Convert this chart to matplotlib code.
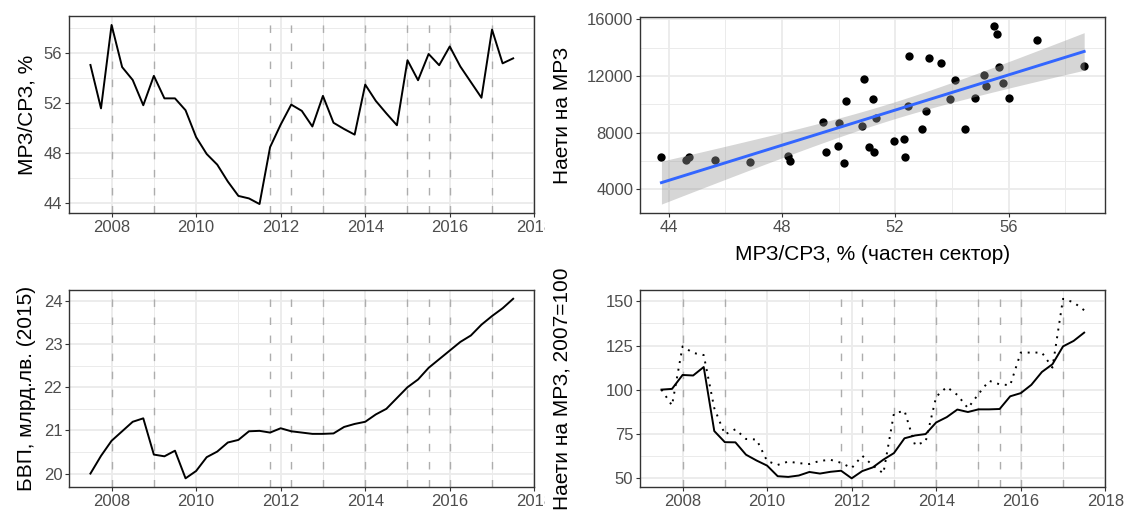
'''
Four panel chart: minimum wage / average wage ratio, GDP and employment at minimum wage.
'''

import numpy as np
import pandas as pd
import matplotlib
matplotlib.use('Agg')
import matplotlib.pyplot as plt
from matplotlib.transforms import Bbox, TransformedBbox

plt.rcParams['font.family'] = ['Liberation Sans', 'DejaVu Sans']

# quarterly series, 2007Q3 - 2017Q3
quarters = pd.period_range('2007Q3', '2017Q3', freq='Q')
t = np.array(quarters.year + (quarters.quarter - 1) / 4.0)

# МРЗ/СРЗ, %
mrz_srz = [55.07, 51.6, 58.27, 54.9, 53.87, 51.85, 54.2, 52.4, 52.4, 51.45,
           49.3, 47.95, 47.1, 45.75, 44.6, 44.4, 43.95, 48.5, 50.3, 51.9,
           51.4, 50.15, 52.6, 50.45, 49.95, 49.5, 53.5, 52.2, 51.2, 50.25,
           55.45, 53.85, 55.95, 55.05, 56.55, 54.95, 53.7, 52.45, 57.9, 55.2,
           55.6]

# БВП, млрд.лв. (2015)
gdp = [20.0, 20.41, 20.76, 20.98, 21.2, 21.28, 20.44, 20.4, 20.53, 19.89,
       20.06, 20.38, 20.51, 20.72, 20.78, 20.98, 20.99, 20.95, 21.05, 20.98,
       20.95, 20.92, 20.92, 20.93, 21.08, 21.15, 21.2, 21.37, 21.5, 21.75,
       22.0, 22.18, 22.45, 22.65, 22.85, 23.05, 23.2, 23.45, 23.65, 23.83,
       24.05]

# Наети на МРЗ, 2007=100 (solid and dotted)
emp_idx = [100.0, 100.4, 108.3, 108.0, 112.8, 76.5, 70.2, 70.1, 63.1, 59.8,
           56.9, 50.9, 50.5, 51.3, 53.3, 52.4, 53.4, 54.0, 49.7, 53.8,
           55.9, 60.3, 64.0, 72.4, 74.0, 74.8, 81.4, 84.4, 88.7, 87.3,
           88.8, 88.8, 89.0, 96.2, 98.0, 102.7, 110.0, 114.4, 124.5, 127.6,
           132.3]
emp_idx_dot = [100.0, 91.0, 124.5, 120.8, 119.6, 89.5, 74.6, 77.5, 72.0, 71.7,
               59.5, 57.3, 59.2, 58.3, 57.8, 59.6, 60.2, 58.5, 55.5, 62.5,
               57.0, 52.5, 86.5, 88.0, 68.5, 70.5, 96.0, 101.5, 97.0, 89.5,
               97.5, 105.0, 103.0, 102.5, 121.0, 121.0, 121.0, 112.5, 151.5, 149.5,
               145.0]

# scatter: МРЗ/СРЗ (частен сектор) vs наети на МРЗ
sc_x = [43.75, 44.6, 44.73, 45.63, 46.87, 48.2, 48.3, 49.45, 49.56, 50.0,
        49.98, 50.2, 50.28, 50.83, 50.9, 51.06, 51.21, 51.27, 51.34, 51.95,
        52.3, 52.35, 52.45, 52.5, 52.95, 53.1, 53.2, 53.6, 53.95, 54.1,
        54.45, 54.8, 55.15, 55.2, 55.5, 55.6, 55.65, 55.8, 56.0, 57.0,
        58.67]
sc_y = [6260, 6100, 6260, 6070, 5950, 6350, 6000, 8750, 6600, 8680,
        7060, 5860, 10240, 8470, 11790, 7000, 10400, 6600, 9000, 7390,
        7580, 6260, 9860, 13440, 8260, 9530, 13270, 12940, 10400, 11740,
        8240, 10450, 12050, 11270, 15530, 14940, 12640, 11510, 10450, 14560,
        12700]

# event dates (dashed lines)
events = [2008.0, 2009.0, 2011.75, 2012.25, 2013.0, 2014.0, 2015.0, 2015.5, 2016.0, 2017.0]

year_ticks = [2008, 2010, 2012, 2014, 2016, 2018]
year_minor = [2007, 2009, 2011, 2013, 2015, 2017]

W, H = 1126, 512


def style_ax(ax, xmaj, xmin, ymaj, ymin):
    '''
    theme_bw look
    '''
    ax.set_xticks(xmaj)
    ax.set_xticks(xmin, minor=True)
    ax.set_yticks(ymaj)
    ax.set_yticks(ymin, minor=True)
    ax.set_axisbelow(True)
    ax.grid(which='major', color='#EBEBEB', lw=1.3)
    ax.grid(which='minor', color='#EBEBEB', lw=0.7)
    for s in ax.spines.values():
        s.set_color('#333333')
        s.set_linewidth(1.0)
    ax.tick_params(which='major', length=3.0, width=0.8, color='#333333',
                   labelsize=12, labelcolor='#4D4D4D', pad=2)
    ax.tick_params(which='minor', length=0)


def expand(vals, frac=0.05):
    lo, hi = np.min(vals), np.max(vals)
    d = (hi - lo) * frac
    return lo - d, hi + d


def add_events(ax):
    for e in events:
        ax.axvline(e, color='#ADADAD', lw=1.0, dashes=(5.4, 7.6), zorder=1.8)


fig = plt.figure(figsize=(W / 100, H / 100), dpi=100)

axw = 465 / W
ax_tl = fig.add_axes([69.3 / W, 1 - 213 / H, axw, 197 / H])
ax_tr = fig.add_axes([640.3 / W, 1 - 213 / H, axw, 196 / H])
ax_bl = fig.add_axes([69.3 / W, 1 - 487.3 / H, axw, 197.5 / H])
ax_br = fig.add_axes([640.3 / W, 1 - 487.3 / H, axw, 197.5 / H])

# top left
style_ax(ax_tl, year_ticks, year_minor, [44, 48, 52, 56], [42, 46, 50, 54, 58])
add_events(ax_tl)
ax_tl.plot(t, mrz_srz, color='black', lw=1.4, zorder=3)
ax_tl.set_xlim(expand(t))
ax_tl.set_ylim(expand(mrz_srz))
ax_tl.set_ylabel('МРЗ/СРЗ, %', fontsize=15)
ax_tl.yaxis.set_label_coords(-0.0716, 0.5)

# bottom left
style_ax(ax_bl, year_ticks, year_minor, [20, 21, 22, 23, 24],
         [19.5, 20.5, 21.5, 22.5, 23.5, 24.5])
add_events(ax_bl)
ax_bl.plot(t, gdp, color='black', lw=1.4, zorder=3)
ax_bl.set_xlim(expand(t))
ax_bl.set_ylim(expand(gdp))
ax_bl.set_ylabel('БВП, млрд.лв. (2015)', fontsize=15)
ax_bl.yaxis.set_label_coords(-0.0716, 0.5)

# left panels: the 2018 label is cut by the neighbouring panel
clip = TransformedBbox(Bbox.from_extents(0, 0, 545 / W, 1), fig.transFigure)
for ax in (ax_tl, ax_bl):
    for lbl in ax.get_xticklabels():
        lbl.set_clip_on(True)
        lbl.set_clip_box(clip)

# top right: scatter with linear fit
style_ax(ax_tr, [44, 48, 52, 56], [46, 50, 54, 58],
         [4000, 8000, 12000, 16000], [2000, 6000, 10000, 14000])
x = np.array(sc_x, dtype=float)
y = np.array(sc_y, dtype=float)
n = len(x)
b, a = np.polyfit(x, y, 1)
xs = np.linspace(x.min(), x.max(), 100)
yhat = a + b * xs
res = y - (a + b * x)
s = np.sqrt(np.sum(res ** 2) / (n - 2))
se = s * np.sqrt(1.0 / n + (xs - x.mean()) ** 2 / np.sum((x - x.mean()) ** 2))
tval = 2.0227  # t(0.975, n-2)
lo, hi = yhat - tval * se, yhat + tval * se
ax_tr.scatter(x, y, s=36, color='black', linewidths=0, zorder=2)
ax_tr.fill_between(xs, lo, hi, color='#999999', alpha=0.4, lw=0, zorder=3)
ax_tr.plot(xs, yhat, color='#3366FF', lw=2.1, zorder=4)
ax_tr.set_xlim(expand(x))
ax_tr.set_ylim(expand(np.concatenate([y, lo, hi])))
ax_tr.set_xlabel('МРЗ/СРЗ, % (частен сектор)', fontsize=15, labelpad=7)
ax_tr.set_ylabel('Наети на МРЗ', fontsize=15)
ax_tr.yaxis.set_label_coords(-0.147, 0.5)

# bottom right
style_ax(ax_br, year_ticks, year_minor, [50, 75, 100, 125, 150],
         [62.5, 87.5, 112.5, 137.5])
add_events(ax_br)
ax_br.plot(t, emp_idx_dot, color='black', lw=1.4, ls=(0, (1, 3)), zorder=3)
ax_br.plot(t, emp_idx, color='black', lw=1.4, zorder=3)
ax_br.set_xlim(expand(t))
ax_br.set_ylim(expand(emp_idx + emp_idx_dot))
ax_br.set_ylabel('Наети на МРЗ, 2007=100', fontsize=15)
ax_br.yaxis.set_label_coords(-0.147, 0.5)

fig.savefig('out.png', dpi=100)
